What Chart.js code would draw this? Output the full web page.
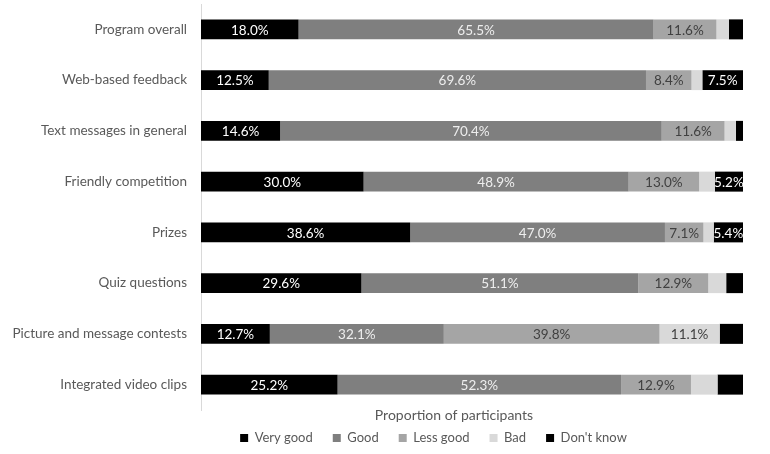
<!DOCTYPE html>
<html>
<head>
<meta charset="utf-8">
<script src="https://cdn.jsdelivr.net/npm/chart.js@4"></script>
<style>
  body { margin: 0; background: #fff; }
  #wrap { width: 770px; height: 454px; }
</style>
</head>
<body>
<div id="wrap"><canvas id="chart" width="770" height="454"></canvas></div>
<script>
const categories = [
  'Program overall',
  'Web-based feedback',
  'Text messages in general',
  'Friendly competition',
  'Prizes',
  'Quiz questions',
  'Picture and message contests',
  'Integrated video clips'
];

const veryGood = [18.0, 12.5, 14.6, 30.0, 38.6, 29.6, 12.7, 25.2];
const good     = [65.5, 69.6, 70.4, 48.9, 47.0, 51.1, 32.1, 52.3];
const lessGood = [11.6,  8.4, 11.6, 13.0,  7.1, 12.9, 39.8, 12.9];
const bad      = [ 2.3,  2.0,  2.1,  2.9,  1.9,  3.3, 11.1,  4.9];
const dontKnow = [ 2.6,  7.5,  1.3,  5.2,  5.4,  3.1,  4.3,  4.7];

const FONT = 'Lato, "Open Sans", sans-serif';

// draws the percent inside each segment, only when it is big enough
const segmentLabels = {
  id: 'segmentLabels',
  afterDatasetsDraw(chart) {
    const ctx = chart.ctx;
    ctx.save();
    ctx.font = '13.5px ' + FONT;
    ctx.textAlign = 'center';
    ctx.textBaseline = 'middle';
    chart.data.datasets.forEach((ds, i) => {
      const meta = chart.getDatasetMeta(i);
      meta.data.forEach((bar, j) => {
        const v = ds.data[j];
        if (v < 5) return;
        const cx = (bar.x + bar.base) / 2;
        ctx.fillStyle = ds.labelColor;
        ctx.fillText(v.toFixed(1) + '%', cx, bar.y + 1);
      });
    });
    ctx.restore();
  }
};

// the original centres legend and axis title a bit off the plot centre
const nudgeBottom = {
  id: 'nudgeBottom',
  afterLayout(chart) {
    chart.legend.left += 62;
    chart.legend.right += 62;
    chart.scales.x.left -= 36;
  }
};

new Chart(document.getElementById('chart'), {
  type: 'bar',
  data: {
    labels: categories,
    datasets: [
      { label: 'Very good',  data: veryGood, backgroundColor: '#000000', labelColor: '#ffffff' },
      { label: 'Good',       data: good,     backgroundColor: '#7f7f7f', labelColor: '#eeeeee' },
      { label: 'Less good',  data: lessGood, backgroundColor: '#a5a5a5', labelColor: '#404040' },
      { label: 'Bad',        data: bad,      backgroundColor: '#d9d9d9', labelColor: '#404040' },
      { label: "Don't know", data: dontKnow, backgroundColor: '#000000', labelColor: '#ffffff' }
    ]
  },
  options: {
    indexAxis: 'y',
    responsive: false,
    animation: false,
    maintainAspectRatio: false,
    categoryPercentage: 1,
    barPercentage: 0.394,
    layout: { padding: { top: 4, right: 27, bottom: -0.5, left: 0 } },
    scales: {
      x: {
        stacked: true,
        min: 0,
        max: 100,
        grid: { display: false },
        border: { display: false },
        ticks: { display: false },
        title: {
          display: true,
          text: 'Proportion of participants',
          color: '#595959',
          font: { family: FONT, size: 14 },
          padding: { top: 0, bottom: -12.5 }
        },
        afterFit(scale) { scale.height = 1.5; }
      },
      y: {
        stacked: true,
        grid: { display: false, drawTicks: false },
        border: { display: true, color: '#d9d9d9', width: 1 },
        ticks: {
          color: '#595959',
          font: { family: FONT, size: 13.5 },
          padding: 14
        },
        afterFit(scale) {
          scale.width = 201;
          scale.paddingTop = 0;
          scale.paddingBottom = 0;
        }
      }
    },
    plugins: {
      legend: {
        position: 'bottom',
        labels: {
          color: '#595959',
          font: { family: FONT, size: 13 },
          boxWidth: 8,
          boxHeight: 8,
          padding: 20
        }
      },
      tooltip: { enabled: false }
    }
  },
  plugins: [segmentLabels, nudgeBottom]
});
</script>
</body>
</html>
